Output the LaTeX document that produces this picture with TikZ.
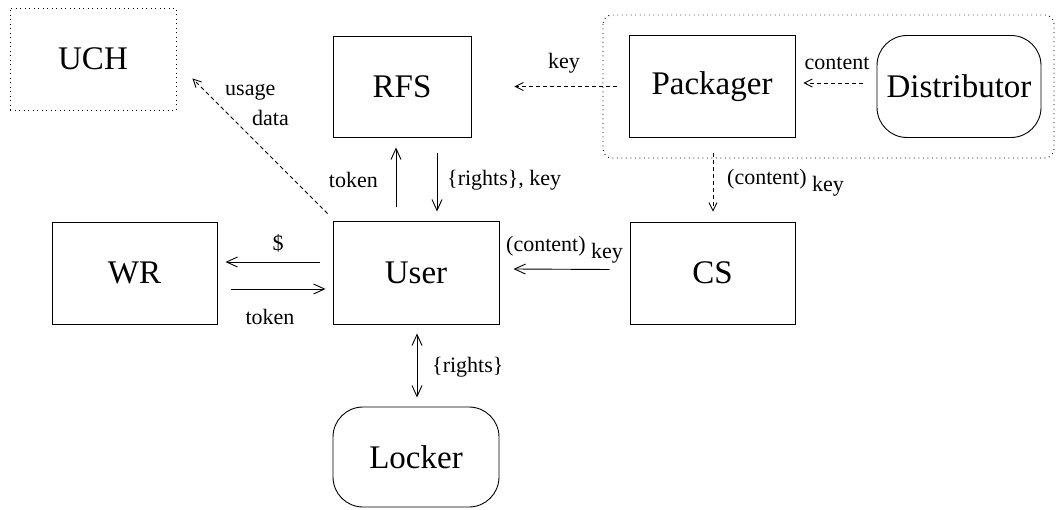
\documentclass[tikz,border=0pt]{standalone}
\usepackage{fontspec}
\setmainfont{Liberation Serif}
\usetikzlibrary{calc,arrows.meta}
\tikzset{
  box/.style={draw, line width=0.9pt, inner sep=0pt, font=\fontsize{33}{38}\selectfont},
  roundbox/.style={box, rounded corners=30pt},
  dotbox/.style={box, dash pattern=on 0.9pt off 3.6pt},
  lbl/.style={inner sep=0pt, font=\fontsize{22}{26}\selectfont},
  arr/.style={line width=0.9pt, -{Straight Barb[length=11pt,width=10pt,line width=0.9pt]}},
  dbl/.style={line width=0.9pt, {Straight Barb[length=11pt,width=10pt,line width=0.9pt]}-{Straight Barb[length=11pt,width=10pt,line width=0.9pt]}},
  darr/.style={line width=0.9pt, dash pattern=on 4pt off 3pt, -{Straight Barb[length=8pt,width=8pt,line width=0.9pt]}},
}
\begin{document}
\begin{tikzpicture}[x=1pt,y=-1pt]
\useasboundingbox (0,0) rectangle (1056,510);

% dotted frame round the packaging side
\draw[line width=0.9pt, dash pattern=on 0.9pt off 3.6pt, rounded corners=9pt] (603,15) rectangle (1054,158);

% parties
\node[dotbox, minimum width=166pt, minimum height=102pt] (UCH) at (93,59) {UCH};
\node[box, minimum width=138pt, minimum height=101pt] (RFS) at (402,86.5) {RFS};
\node[box, minimum width=166pt, minimum height=102pt] (Packager) at (712,86.5) {Packager};
\node[roundbox, minimum width=164pt, minimum height=102pt] (Distributor) at (959,86.5) {Distributor};
\node[box, minimum width=165pt, minimum height=102pt] (WR) at (134.5,273) {WR};
\node[box, minimum width=166pt, minimum height=103pt] (User) at (416,272.5) {User};
\node[box, minimum width=165pt, minimum height=102pt] (CS) at (712.5,273) {CS};
\node[roundbox, minimum width=166pt, minimum height=100pt] (Locker) at (416,457) {Locker};

% content and keys on the packaging side
\draw[darr] ($(Distributor.west)+(-14,-3.5)$) -- ($(Packager.east)+(8,-3.5)$);
\node[lbl] (lcontent) at (837,63) {content};
\draw[darr] ($(Packager.west)+(-12,0)$) -- ($(RFS.east)+(43,0)$);
\node[lbl] (lkey) at (564,63) {key};
\draw[darr] ($(Packager.south)+(1,15)$) -- ($(CS.north)+(0.5,-10)$);
\node[lbl, anchor=west] (lckey) at (727,183) {(content) \raisebox{-7pt}{key}};

% user exchanges
\draw[arr] ($(CS.west)+(-20,-3.5)$) -- ($(User.east)+(14,-3.5)$);
\node[lbl, anchor=west] (luckey) at (506,250) {(content) \raisebox{-7pt}{key}};
\draw[arr] ($(User.west)+(-13,-10.5)$) -- ($(WR.east)+(8,-11)$);
\node[lbl] (ldollar) at (278,243) {\$};
\draw[arr] ($(WR.east)+(14,16)$) -- ($(User.west)+(-7,16.5)$);
\node[lbl] (ltoken) at (270,317) {token};
\draw[arr] ($(User.north)+(-20,-14)$) -- ($(RFS.south)+(-6,10)$);
\node[lbl, anchor=east] (lutoken) at (378,180) {token};
\draw[arr] ($(RFS.south)+(35,16)$) -- ($(User.north)+(21,-9)$);
\node[lbl, anchor=west] (lrk) at (447,180) {\{rights\}, key};
\draw[dbl] ($(User.south)+(1,9)$) -- ($(Locker.north)+(1,-9)$);
\node[lbl, anchor=west] (lrights) at (432,367) {\{rights\}};

% usage data to the clearing house
\draw[darr] ($(User.north west)+(-5,-7)$) -- ($(UCH.south east)+(16,-32)$);
\node[lbl, anchor=west] (lusage) at (225,92) {usage};
\node[lbl, anchor=west] (ldata) at (252,118) {data};
\end{tikzpicture}
\end{document}
